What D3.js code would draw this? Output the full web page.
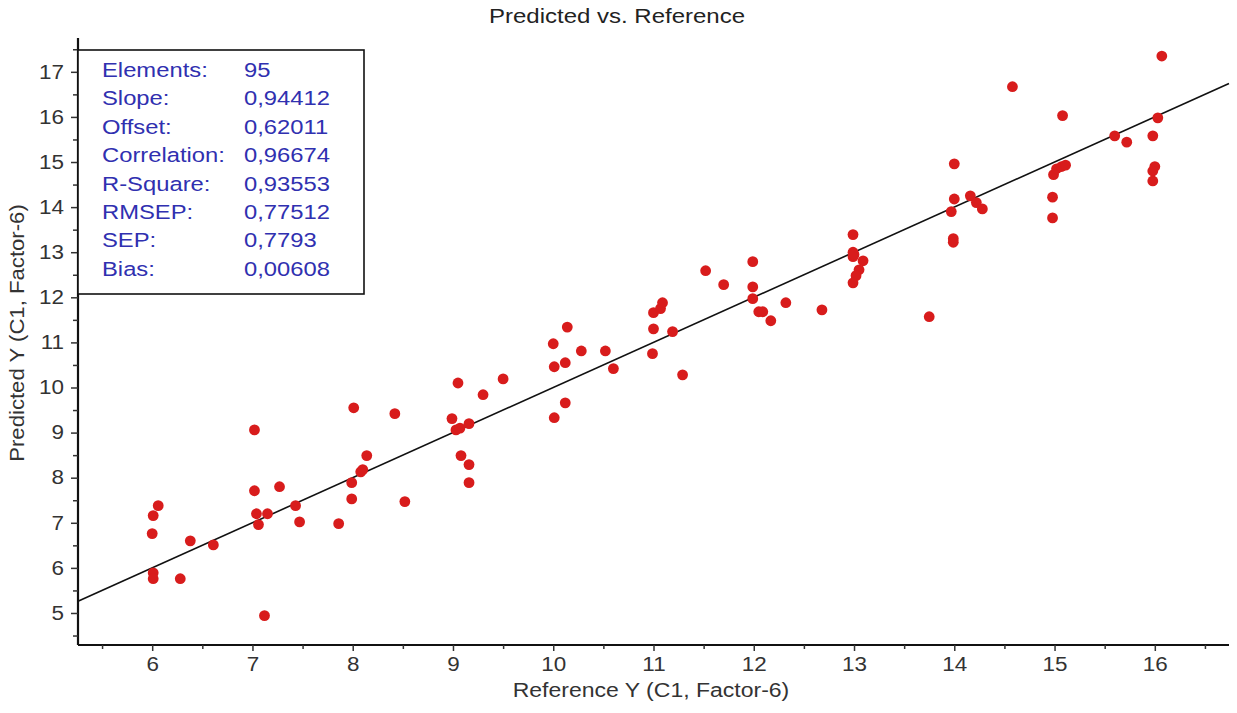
<!DOCTYPE html>
<html>
<head>
<meta charset="utf-8">
<script src="https://cdn.jsdelivr.net/npm/d3@7"></script>
<style>
  html, body { margin: 0; padding: 0; background: #ffffff; }
  svg { display: block; font-family: Arial, "Liberation Sans", sans-serif; }
</style>
</head>
<body>
<svg id="chart" width="1237" height="713"></svg>
<script>
// ---------- data ----------
const referenceY = [
  6.00, 6.01, 6.06, 6.01, 6.01, 6.28, 6.38, 6.61,
  7.02, 7.02, 7.27, 7.04, 7.15, 7.06, 7.12, 7.43, 7.47, 7.86,
  7.99, 7.99, 8.08, 8.10, 8.14, 8.52, 8.01, 8.42,
  9.05, 9.30, 9.50, 8.99, 9.03, 9.07, 9.16, 9.08, 9.16, 9.16,
  10.00, 10.14, 10.28, 10.52, 10.01, 10.12, 10.60, 10.12, 10.01,
  10.99, 11.00, 11.00, 11.07, 11.09, 11.19, 11.29, 11.52, 11.70,
  11.99, 11.99, 11.99, 12.05, 12.09, 12.17, 12.32, 12.68,
  12.99, 12.99, 12.99, 13.00, 13.09, 13.05, 13.02, 12.99, 13.75,
  14.00, 14.00, 13.97, 14.16, 14.22, 14.28, 13.99, 13.99, 14.58,
  15.08, 14.99, 15.02, 15.07, 15.11, 14.98, 14.98, 15.60, 15.72,
  16.03, 15.98, 16.00, 15.98, 15.98, 16.07
];
const predictedY = [
  6.76, 7.16, 7.38, 5.89, 5.76, 5.76, 6.60, 6.51,
  9.06, 7.71, 7.80, 7.20, 7.20, 6.96, 4.94, 7.38, 7.02, 6.98,
  7.53, 7.89, 8.13, 8.18, 8.49, 7.47, 9.55, 9.42,
  10.10, 9.84, 10.19, 9.31, 9.06, 9.10, 9.20, 8.49, 8.29, 7.89,
  10.97, 11.34, 10.81, 10.81, 10.46, 10.55, 10.42, 9.66, 9.33,
  10.75, 11.30, 11.66, 11.75, 11.88, 11.24, 10.28, 12.59, 12.28,
  12.79, 12.23, 11.97, 11.68, 11.68, 11.48, 11.88, 11.72,
  13.39, 13.00, 12.90, 12.95, 12.81, 12.61, 12.48, 12.32, 11.57,
  14.96, 14.18, 13.90, 14.25, 14.10, 13.96, 13.30, 13.22, 16.67,
  16.03, 14.72, 14.85, 14.90, 14.93, 14.22, 13.76, 15.58, 15.44,
  15.98, 15.58, 14.90, 14.80, 14.58, 17.35
];
const xTickValues = [6, 7, 8, 9, 10, 11, 12, 13, 14, 15, 16];
const yTickValues = [5, 6, 7, 8, 9, 10, 11, 12, 13, 14, 15, 16, 17];
const statLabels = ["Elements:", "Slope:", "Offset:", "Correlation:", "R-Square:", "RMSEP:", "SEP:", "Bias:"];
const statValues = ["95", "0,94412", "0,62011", "0,96674", "0,93553", "0,77512", "0,7793", "0,00608"];
const chartTitle = "Predicted vs. Reference";
const xTitle = "Reference Y (C1, Factor-6)";
const yTitle = "Predicted Y (C1, Factor-6)";

// ---------- layout ----------
const svg = d3.select("#chart");
const padL = 78, padR = 1229, padT = 38, padB = 645;
const xDomain = [5.26, 16.74], yDomain = [4.29, 17.75];
const x = d3.scaleLinear().domain(xDomain).range([padL, padR]);
const y = d3.scaleLinear().domain(yDomain).range([padB, padT]);

function stretch(k) {
  return sel => sel.each(function () {
    const w = this.getComputedTextLength();
    d3.select(this).attr("textLength", w * k).attr("lengthAdjust", "spacingAndGlyphs");
  });
}

// title
svg.append("text")
  .attr("x", 617).attr("y", 23)
  .attr("text-anchor", "middle")
  .attr("font-size", 20).attr("fill", "#222")
  .text(chartTitle)
  .call(stretch(1.2));

// minor ticks
const halfX = d3.range(5.5, 16.75, 1);
const halfY = d3.range(4.5, 17.75, 1);

const xAxis = d3.axisBottom(x).tickValues(xTickValues).tickSize(6).tickPadding(6).tickFormat(d3.format("d"));
const yAxis = d3.axisLeft(y).tickValues(yTickValues).tickSize(7).tickPadding(7).tickFormat(d3.format("d"));

const gx = svg.append("g").attr("transform", `translate(0,${padB})`).call(xAxis);
const gy = svg.append("g").attr("transform", `translate(${padL},0)`).call(yAxis);

svg.append("g").attr("transform", `translate(0,${padB})`)
  .call(d3.axisBottom(x).tickValues(halfX).tickSize(4).tickFormat(""))
  .select(".domain").remove();
svg.append("g").attr("transform", `translate(${padL},0)`)
  .call(d3.axisLeft(y).tickValues(halfY).tickSize(5).tickFormat(""))
  .select(".domain").remove();

svg.selectAll(".tick line").attr("stroke", "#333").attr("stroke-width", 1.5);
[gx, gy].forEach(g => {
  g.select(".domain").attr("stroke", "#111").attr("stroke-width", 2.2);
  g.selectAll(".tick text").attr("font-size", 19.5).attr("fill", "#333")
    .attr("font-family", "Arial, 'Liberation Sans', sans-serif").call(stretch(1.15));
});
gy.select(".domain").attr("d", `M0,${padB}V${padT}`);
gx.select(".domain").attr("d", `M${padL},0H${padR}`);

// axis titles
svg.append("text")
  .attr("x", 651).attr("y", 697)
  .attr("text-anchor", "middle")
  .attr("font-size", 20).attr("fill", "#333")
  .text(xTitle).call(stretch(1.15));
svg.append("text")
  .attr("transform", `translate(24,333) rotate(-90)`)
  .attr("text-anchor", "middle")
  .attr("font-size", 20.5).attr("fill", "#333")
  .text(yTitle).call(stretch(1.08));

// target line y = x
svg.append("line")
  .attr("x1", x(xDomain[0])).attr("y1", y(xDomain[0]))
  .attr("x2", x(xDomain[1])).attr("y2", y(xDomain[1]))
  .attr("stroke", "#111").attr("stroke-width", 1.6);

// points
svg.append("g").selectAll("circle")
  .data(referenceY.map((r, i) => [r, predictedY[i]]))
  .join("circle")
  .attr("cx", d => x(d[0]))
  .attr("cy", d => y(d[1]))
  .attr("r", 5.4)
  .attr("fill", "#d81c1c");

// statistics box
svg.append("rect")
  .attr("x", padL).attr("y", 50)
  .attr("width", 286).attr("height", 244)
  .attr("fill", "#fff").attr("stroke", "#111").attr("stroke-width", 1.6);
const stats = svg.append("g").attr("font-size", 20.5).attr("fill", "#3030b0");
stats.selectAll("text.lab").data(statLabels).join("text")
  .attr("class", "lab")
  .attr("x", 102).attr("y", (d, i) => 77 + i * 28.4)
  .text(d => d).call(stretch(1.16));
stats.selectAll("text.val").data(statValues).join("text")
  .attr("class", "val")
  .attr("x", 244).attr("y", (d, i) => 77 + i * 28.4)
  .text(d => d).call(stretch(1.16));
</script>
</body>
</html>
